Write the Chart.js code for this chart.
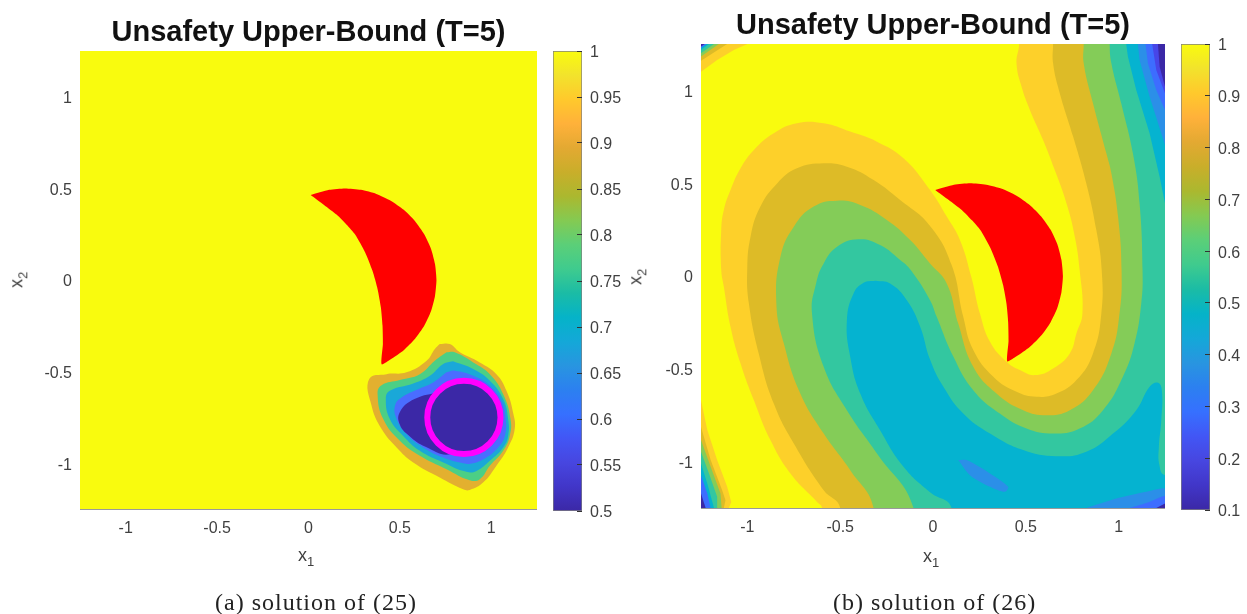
<!DOCTYPE html>
<html>
<head>
<meta charset="utf-8">
<title>Unsafety Upper-Bound</title>
<script src="https://cdn.jsdelivr.net/npm/chart.js@4"></script>
<style>
  html, body { margin: 0; padding: 0; background: #fff; width: 1247px; height: 614px; overflow: hidden; }
  canvas { position: absolute; }
  .axis-label { position: absolute; font: 18px "Liberation Sans", Arial, sans-serif; color: #404040; white-space: nowrap; }
  .axis-label sub { font-size: 13px; }
  .rot { transform: rotate(-90deg); transform-origin: center; }
  .caption { position: absolute; top: 589px; font: 24px "Liberation Serif", serif; letter-spacing: 1px; color: #222; white-space: nowrap; }
</style>
</head>
<body>
<canvas id="plotA" width="517" height="536" style="left:20px;top:14px"></canvas>
<canvas id="barA" width="90" height="480" style="left:553px;top:41px"></canvas>
<canvas id="plotB" width="524" height="542" style="left:641px;top:7px"></canvas>
<canvas id="barB" width="66" height="486" style="left:1181px;top:34px"></canvas>

<div class="axis-label" style="left:298px;top:545px">x<sub>1</sub></div>
<div class="axis-label rot" style="left:10px;top:268px">x<sub>2</sub></div>
<div class="axis-label" style="left:923px;top:546px">x<sub>1</sub></div>
<div class="axis-label rot" style="left:629px;top:265px">x<sub>2</sub></div>
<div class="caption" style="left:215px">(a) solution of (25)</div>
<div class="caption" style="left:833px">(b) solution of (26)</div>

<script>
// ---- tick labels ----
const axisTicks = [-1, -0.5, 0, 0.5, 1];
const barTicksA = [0.5, 0.55, 0.6, 0.65, 0.7, 0.75, 0.8, 0.85, 0.9, 0.95, 1];
const barTicksB = [0.1, 0.2, 0.3, 0.4, 0.5, 0.6, 0.7, 0.8, 0.9, 1];

// colorbar colours, bottom to top, evenly spaced
const barColors = ['#3B28A6','#4136C8','#4746E0','#4256F5','#3670FF','#2C80F0','#2895E0','#14A8D8','#05B3C8',
  '#1BBCA5','#3FCB8E','#5BCF78','#84CA52','#ABB82F','#C9AE2A','#E3A932','#FFB13A','#FFC92C','#F2E32C','#F9FB0E'];

// ---- shared shapes ----
const plotFrame = [[-1.25,-1.25],[1.25,-1.25],[1.25,1.25],[-1.25,1.25]];
const crescent = [[0.012,0.464],[0.113,0.492],[0.2,0.5],[0.287,0.492],[0.371,0.47],[0.45,0.433],[0.521,0.383],
  [0.583,0.321],[0.633,0.25],[0.67,0.171],[0.692,0.087],[0.7,0],[0.692,-0.087],[0.67,-0.171],[0.633,-0.25],
  [0.583,-0.321],[0.521,-0.383],[0.45,-0.433],[0.4,-0.46],[0.407,-0.35],[0.405,-0.25],[0.396,-0.15],[0.378,-0.05],
  [0.35,0.05],[0.31,0.15],[0.255,0.248],[0.21,0.3],[0.155,0.356],[0.085,0.41]];

// ---- solution (a) contours ----
const aLevel90 = [[0.718,-0.35],[0.773,-0.35],[0.828,-0.395],[0.937,-0.45],[1.028,-0.514],[1.083,-0.605],[1.119,-0.723],
  [1.128,-0.814],[1.092,-0.914],[1.028,-1.014],[0.955,-1.106],[0.882,-1.146],[0.846,-1.142],[0.718,-1.078],[0.573,-0.996],
  [0.482,-0.914],[0.4,-0.814],[0.345,-0.687],[0.332,-0.541],[0.427,-0.514],[0.536,-0.504],[0.646,-0.441],[0.691,-0.377]];
const aLevel80 = [[0.755,-0.395],[0.8,-0.395],[0.901,-0.45],[0.992,-0.514],[1.065,-0.623],[1.105,-0.759],[1.101,-0.851],
  [1.065,-0.932],[0.992,-1.014],[0.937,-1.087],[0.882,-1.093],[0.755,-1.033],[0.609,-0.96],[0.5,-0.878],[0.409,-0.759],
  [0.378,-0.623],[0.4,-0.574],[0.5,-0.546],[0.609,-0.514],[0.691,-0.441]];
const aLevel70 = [[0.791,-0.444],[0.901,-0.486],[0.992,-0.55],[1.065,-0.65],[1.092,-0.759],[1.092,-0.851],[1.065,-0.914],
  [0.992,-0.987],[0.919,-1.042],[0.864,-1.047],[0.737,-0.996],[0.609,-0.932],[0.518,-0.851],[0.445,-0.759],[0.423,-0.65],
  [0.445,-0.605],[0.573,-0.565],[0.664,-0.523],[0.737,-0.459]];
const aLevel60 = [[0.755,-0.504],[0.8,-0.495],[0.901,-0.523],[0.992,-0.577],[1.055,-0.659],[1.079,-0.759],[1.074,-0.851],
  [1.037,-0.914],[0.973,-0.969],[0.901,-1],[0.846,-1],[0.737,-0.969],[0.627,-0.914],[0.536,-0.841],[0.482,-0.759],
  [0.473,-0.687],[0.509,-0.641],[0.609,-0.592],[0.682,-0.559]];
const aLevel50 = [[0.72,-0.61],[0.58,-0.65],[0.5,-0.72],[0.5,-0.79],[0.55,-0.85],[0.64,-0.91],[0.78,-0.95],[0.9,-0.85],[0.9,-0.65]];
const startSet = [{ x: 0.85, y: -0.75 }];

// ---- solution (b) contours, main bands (tails run past the frame so the clip cuts them) ----
const bOrange = [[0.464,1.6],[0.464,1.25],[0.45,1.146],[0.477,1.021],[0.522,0.895],[0.593,0.733],[0.656,0.571],[0.719,0.392],
  [0.764,0.212],[0.79,0.032],[0.805,-0.202],[0.773,-0.309],[0.737,-0.417],[0.647,-0.498],[0.549,-0.534],[0.468,-0.507],
  [0.396,-0.462],[0.307,-0.354],[0.253,-0.202],[0.205,0],[0.145,0.194],[0.074,0.32],[-0.016,0.463],[-0.159,0.634],
  [-0.302,0.724],[-0.446,0.778],[-0.589,0.823],[-0.733,0.823],[-0.858,0.769],[-0.965,0.679],[-1.037,0.58],[-1.091,0.463],
  [-1.127,0.356],[-1.141,0.248],[-1.141,0.032],[-1.127,-0.058],[-1.091,-0.273],[-1.037,-0.471],[-0.965,-0.669],
  [-0.876,-0.884],[-0.768,-1.064],[-0.625,-1.217],[-0.598,-1.25],[-0.598,-1.6],[1.6,-1.6],[1.6,1.6]];
const bOchre = [[0.647,1.6],[0.647,1.25],[0.647,1.146],[0.683,0.985],[0.755,0.751],[0.826,0.499],[0.88,0.248],[0.909,0.032],
  [0.907,-0.202],[0.862,-0.417],[0.773,-0.561],[0.665,-0.633],[0.557,-0.651],[0.45,-0.624],[0.325,-0.543],[0.217,-0.399],
  [0.163,-0.22],[0.1,0.06],[-0.016,0.27],[-0.177,0.409],[-0.32,0.517],[-0.464,0.589],[-0.589,0.607],[-0.733,0.58],
  [-0.84,0.499],[-0.93,0.374],[-0.983,0.212],[-1.001,0.032],[-0.992,-0.148],[-0.939,-0.417],[-0.858,-0.687],[-0.75,-0.902],
  [-0.589,-1.154],[-0.5,-1.25],[-0.5,-1.6],[1.6,-1.6],[1.6,1.6]];
const bGreen = [[0.812,1.6],[0.812,1.25],[0.812,1.146],[0.862,0.931],[0.934,0.661],[0.961,0.553],[0.997,0.32],[1.016,0.032],
  [1.005,-0.202],[0.961,-0.417],[0.862,-0.615],[0.737,-0.723],[0.611,-0.75],[0.486,-0.723],[0.342,-0.633],[0.217,-0.489],
  [0.136,-0.256],[0.074,-0.04],[-0.016,0.068],[-0.123,0.194],[-0.249,0.302],[-0.392,0.383],[-0.517,0.406],[-0.643,0.374],
  [-0.75,0.266],[-0.822,0.104],[-0.844,-0.148],[-0.804,-0.363],[-0.715,-0.633],[-0.589,-0.849],[-0.446,-1.046],[-0.32,-1.25],
  [-0.32,-1.6],[1.6,-1.6],[1.6,1.6]];
const bTeal = [[0.952,1.6],[0.952,1.25],[0.961,1.146],[1.014,0.931],[1.077,0.661],[1.113,0.392],[1.129,0.032],[1.122,-0.148],
  [1.086,-0.363],[1.023,-0.543],[0.916,-0.723],[0.79,-0.822],[0.647,-0.849],[0.504,-0.822],[0.36,-0.741],[0.217,-0.615],
  [0.11,-0.435],[0.02,-0.22],[-0.016,-0.13],[-0.12,0.032],[-0.177,0.086],[-0.285,0.167],[-0.401,0.198],[-0.517,0.158],
  [-0.589,0.068],[-0.63,-0.04],[-0.652,-0.202],[-0.589,-0.489],[-0.464,-0.723],[-0.302,-0.956],[-0.105,-1.25],[-0.105,-1.6],
  [1.6,-1.6],[1.6,1.6]];
const bCyan = [[-0.311,-0.025],[-0.231,-0.04],[-0.141,-0.13],[-0.069,-0.273],[-0.016,-0.45],[0.056,-0.597],[0.163,-0.741],
  [0.307,-0.849],[0.486,-0.938],[0.665,-0.971],[0.826,-0.947],[0.97,-0.849],[1.095,-0.723],[1.167,-0.597],[1.212,-0.575],
  [1.233,-0.615],[1.23,-0.777],[1.217,-0.92],[1.22,-1.02],[1.25,-1.073],[1.6,-1.1],[1.6,-1.6],[0.1,-1.6],[0.1,-1.25],
  [-0.016,-1.165],[-0.159,-1.028],[-0.285,-0.831],[-0.392,-0.633],[-0.446,-0.435],[-0.464,-0.238],[-0.428,-0.094],[-0.374,-0.036]];
const bBlueStreak = [[0.136,-0.992],[0.181,-0.992],[0.307,-1.064],[0.405,-1.136],[0.387,-1.163],[0.307,-1.136],[0.199,-1.073]];

// ---- solution (b) corner patches ----
const bBottomRight1 = [[0.826,-1.25],[0.987,-1.199],[1.149,-1.163],[1.25,-1.145],[1.25,-1.25]];
const bBottomRight2 = [[1.059,-1.25],[1.167,-1.217],[1.25,-1.186],[1.25,-1.25]];
const bBottomRight3 = [[1.203,-1.25],[1.25,-1.226],[1.25,-1.25]];

const bBottomLeft = [
  [[-1.25,-0.67],[-1.216,-0.83],[-1.163,-0.992],[-1.109,-1.136],[-1.087,-1.217],[-1.1,-1.25],[-1.25,-1.25]],
  [[-1.25,-0.813],[-1.198,-0.992],[-1.136,-1.154],[-1.118,-1.208],[-1.127,-1.25],[-1.25,-1.25]],
  [[-1.25,-0.884],[-1.198,-1.028],[-1.145,-1.172],[-1.139,-1.25],[-1.25,-1.25]],
  [[-1.25,-0.947],[-1.207,-1.064],[-1.163,-1.19],[-1.163,-1.25],[-1.25,-1.25]],
  [[-1.25,-1.01],[-1.216,-1.118],[-1.18,-1.25],[-1.25,-1.25]],
  [[-1.25,-1.073],[-1.216,-1.172],[-1.198,-1.25],[-1.25,-1.25]],
  [[-1.25,-1.172],[-1.225,-1.25],[-1.25,-1.25]]
];
const bTopLeft = [
  [[-1.25,1.1],[-1.163,1.164],[-1.073,1.218],[-1,1.25],[-1.25,1.25]],
  [[-1.25,1.16],[-1.109,1.25],[-1.25,1.25]],
  [[-1.25,1.182],[-1.154,1.25],[-1.25,1.25]],
  [[-1.25,1.2],[-1.18,1.25],[-1.25,1.25]],
  [[-1.25,1.218],[-1.207,1.25],[-1.25,1.25]],
  [[-1.25,1.228],[-1.22,1.25],[-1.25,1.25]],
  [[-1.25,1.236],[-1.23,1.25],[-1.25,1.25]]
];
const bTopRight = [
  [[1.041,1.25],[1.05,1.182],[1.095,1.002],[1.167,0.769],[1.221,0.535],[1.25,0.392],[1.25,1.25]],
  [[1.104,1.25],[1.113,1.164],[1.167,0.967],[1.25,0.706],[1.25,1.25]],
  [[1.145,1.25],[1.158,1.146],[1.203,1.002],[1.25,0.894],[1.25,1.25]],
  [[1.181,1.25],[1.203,1.11],[1.25,0.985],[1.25,1.25]],
  [[1.212,1.25],[1.221,1.128],[1.25,1.02],[1.25,1.25]]
];

const YELLOW = '#F9FB0E', ORANGE = '#FDD02A', OCHRE = '#DDBB27', GREEN = '#84CC58', TEAL = '#33C7A0',
  CYAN = '#05B3D0', BLUE = '#2B8FE8', BLUE2 = '#3D6DFF', INDIGO = '#4746E8', DARK = '#3B28A6', RED = '#FF0000';

const TEXT = '#404040', AXIS = '#9a9a9a', FONT = '"Liberation Sans", Arial, sans-serif';
const SMOOTH = 0.45;

function region(points, color, tension) {
  const closed = points.concat([points[0]]);
  return {
    data: closed.map(([x, y]) => ({ x, y })),
    showLine: true,
    fill: 'shape',
    backgroundColor: color,
    borderWidth: 0,
    pointRadius: 0,
    tension: tension || 0
  };
}

function axis(position, padding, fitKey, fitSize, labelOffset) {
  return {
    type: 'linear',
    position,
    min: -1.25,
    max: 1.25,
    border: { color: AXIS },
    grid: { drawOnChartArea: false, drawTicks: false },
    afterBuildTicks: a => { a.ticks = axisTicks.map(value => ({ value })); },
    afterFit: a => { a[fitKey] = fitSize; a.paddingTop = a.paddingBottom = a.paddingLeft = a.paddingRight = 0; },
    ticks: {
      autoSkip: false, maxRotation: 0, padding, labelOffset, color: TEXT,
      font: { family: FONT, size: 16 },
      callback: v => String(v)
    }
  };
}

function drawPlot(id, layers) {
  // the library paints the first dataset last, so layers go in bottom-up and get flipped here
  new Chart(document.getElementById(id), {
    type: 'scatter',
    data: { datasets: layers.slice().reverse() },
    options: {
      responsive: false,
      animation: false,
      layout: { padding: 0, autoPadding: false },
      plugins: {
        legend: { display: false },
        tooltip: { enabled: false },
        title: {
          display: true,
          text: 'Unsafety Upper-Bound (T=5)',
          color: '#111',
          fullSize: false,
          font: { family: FONT, size: 29, weight: 'bold' },
          padding: { top: 2, bottom: 0.2 }
        }
      },
      scales: {
        x: axis('bottom', 10, 'height', 41, 0),
        y: axis('left', 8, 'width', 60, 2)
      }
    }
  });
}

function drawColorbar(id, lo, hi, ticks, pad) {
  new Chart(document.getElementById(id), {
    type: 'bar',
    data: {
      labels: [''],
      datasets: [{
        data: [[lo, hi]],
        barPercentage: 1,
        categoryPercentage: 1,
        borderWidth: 1,
        borderColor: '#7f7f7f',
        borderSkipped: false,
        backgroundColor: c => {
          const area = c.chart.chartArea;
          if (!area) return barColors[0];
          const g = c.chart.ctx.createLinearGradient(0, area.bottom, 0, area.top);
          barColors.forEach((col, i) => g.addColorStop(i / (barColors.length - 1), col));
          return g;
        }
      }]
    },
    options: {
      responsive: false,
      animation: false,
      layout: { padding: { top: pad, bottom: pad }, autoPadding: false },
      plugins: { legend: { display: false }, tooltip: { enabled: false }, title: { display: false } },
      scales: {
        x: { display: false },
        y: {
          position: 'right',
          min: lo,
          max: hi,
          border: { display: false },
          grid: { drawOnChartArea: false, tickLength: -5, tickColor: '#333', z: 1 },
          afterBuildTicks: a => { a.ticks = ticks.map(value => ({ value })); },
          afterFit: a => { a.width = a.chart.width - 29; a.paddingTop = a.paddingBottom = 0; },
          ticks: { autoSkip: false, padding: 13, labelOffset: 2, color: TEXT, font: { family: FONT, size: 16 }, callback: v => String(v) }
        }
      }
    }
  });
}

const layersA = [
  region(plotFrame, YELLOW),
  region(aLevel90, '#E3B02F', SMOOTH),
  region(aLevel80, '#4CCF85', SMOOTH),
  region(aLevel70, '#1AA8D8', SMOOTH),
  region(aLevel60, '#4A6DFF', SMOOTH),
  region(aLevel50, DARK, SMOOTH),
  { data: startSet, pointRadius: 36.6, pointBorderWidth: 6, pointBorderColor: '#FF00FF', pointBackgroundColor: DARK, showLine: false },
  region(crescent, RED, 0.2)
];

const cornerColors = [ORANGE, OCHRE, GREEN, TEAL, CYAN, BLUE2, DARK];
const rightColors = [CYAN, BLUE, BLUE2, INDIGO, DARK];
const layersB = [
  region(plotFrame, YELLOW),
  region(bOrange, ORANGE, SMOOTH),
  region(bOchre, OCHRE, SMOOTH),
  region(bGreen, GREEN, SMOOTH),
  region(bTeal, TEAL, SMOOTH),
  region(bCyan, CYAN, SMOOTH),
  region(bBlueStreak, BLUE, 0.3),
  region(bBottomRight1, BLUE, 0.2),
  region(bBottomRight2, BLUE2, 0.2),
  region(bBottomRight3, DARK)
];
bBottomLeft.forEach((p, i) => layersB.push(region(p, cornerColors[i])));
bTopLeft.forEach((p, i) => layersB.push(region(p, cornerColors[i])));
bTopRight.forEach((p, i) => layersB.push(region(p, rightColors[i])));
layersB.push(region(crescent, RED, 0.2));

drawPlot('plotA', layersA);
drawColorbar('barA', 0.5, 1, barTicksA, 10);
drawPlot('plotB', layersB);
drawColorbar('barB', 0.1, 1, barTicksB, 10);
</script>
</body>
</html>
